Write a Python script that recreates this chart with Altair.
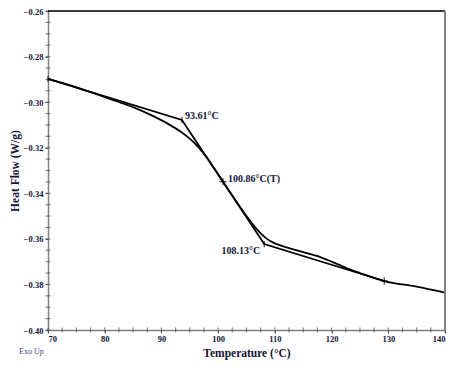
import altair as alt
import pandas as pd

curve_temp = [70, 75, 80, 85, 88, 91, 93.6, 95, 96.5, 98, 99, 100.86, 103, 105, 106.5,
              107.5, 108.6, 110, 111.5, 114.4, 117.4, 120, 123.3, 125, 129.3, 135, 140]
curve_hf = [-0.2898, -0.2935, -0.2978, -0.3022, -0.3055, -0.3093, -0.3133, -0.3160, -0.3197,
            -0.3243, -0.3279, -0.3349, -0.3428, -0.3500, -0.3548, -0.3576, -0.3600, -0.3620,
            -0.3633, -0.3654, -0.3675, -0.3700, -0.3735, -0.3750, -0.3785,
            -0.3810, -0.3836]

tangent_temp = [70, 93.61, 108.13, 129.3]
tangent_hf = [-0.2898, -0.3078, -0.3623, -0.3785]

vtick_temp = [70, 93.61, 108.13]
vtick_hf = [-0.2898, -0.3078, -0.3623]
cross_temp = [100.86, 129.3]
cross_hf = [-0.3349, -0.3785]

label_temp = [93.61, 100.86, 108.13]
label_hf = [-0.3078, -0.3349, -0.3623]
label_text = ["93.61°C", "100.86°C(T)", "108.13°C"]
label_dx = [3, 5, -4]
label_dy = [-4, -3, 7]
label_align = ["left", "left", "right"]

W, H = 397, 319
TXT = "#141438"
FONT = "Liberation Serif"

curve_df = pd.DataFrame({"t": curve_temp, "hf": curve_hf})
tan_df = pd.DataFrame({"t": tangent_temp, "hf": tangent_hf})
vt_df = pd.DataFrame({"t": vtick_temp, "hf": vtick_hf})
cr_df = pd.DataFrame({"t": cross_temp, "hf": cross_hf})

xs = alt.Scale(domain=[70, 140], nice=False, zero=False)
ys = alt.Scale(domain=[-0.40, -0.26], nice=False, zero=False)

xaxis = alt.Axis(values=list(range(70, 141, 10)), title="Temperature (°C)", format="d",
                 grid=False, labelFont=FONT, labelFontWeight="bold", labelFontSize=8.5,
                 labelColor=TXT, titleFont=FONT, titleFontWeight="bold", titleFontSize=11.5,
                 titleColor=TXT, domainColor="#808080", domainWidth=1.5, tickColor="#555555",
                 tickSize=3, labelPadding=1, titlePadding=5)
yaxis = alt.Axis(values=[-0.40, -0.38, -0.36, -0.34, -0.32, -0.30, -0.28, -0.26], format=".2f",
                 title="Heat Flow (W/g)", grid=False, labelFont=FONT, labelFontWeight="bold",
                 labelFontSize=8.5, labelColor=TXT, titleFont=FONT, titleFontWeight="bold",
                 titleFontSize=11.5, titleColor=TXT, domainColor="#808080", domainWidth=1.5,
                 tickColor="#555555", tickSize=3, labelPadding=2, titlePadding=3)

# minor ticks
minor_x = alt.Chart(pd.DataFrame({"t": [70 + 2.5 * i for i in range(29)]})).mark_tick(
    color="#555555", thickness=1.2, size=5, orient="vertical").encode(
    x=alt.X("t:Q", scale=xs), y=alt.value(H))
minor_y = alt.Chart(pd.DataFrame({"hf": [-0.40 + 0.005 * i for i in range(29)]})).mark_tick(
    color="#555555", thickness=1.2, size=5, orient="horizontal").encode(
    y=alt.Y("hf:Q", scale=ys), x=alt.value(0))

curve = alt.Chart(curve_df).mark_line(color="black", strokeWidth=1.8, interpolate="monotone").encode(
    x=alt.X("t:Q", scale=xs, axis=xaxis), y=alt.Y("hf:Q", scale=ys, axis=yaxis))
tangent = alt.Chart(tan_df).mark_line(color="black", strokeWidth=1.8).encode(
    x=alt.X("t:Q", scale=xs), y=alt.Y("hf:Q", scale=ys))
vticks = alt.Chart(vt_df).mark_point(shape="M0,-1L0,1", size=40, color="black", strokeWidth=1.3,
                                    filled=False).encode(
    x=alt.X("t:Q", scale=xs), y=alt.Y("hf:Q", scale=ys))
crosses = alt.Chart(cr_df).mark_point(shape="M-1,0L1,0M0,-1L0,1", size=50, color="black",
                                     strokeWidth=1.3, filled=False).encode(
    x=alt.X("t:Q", scale=xs), y=alt.Y("hf:Q", scale=ys))

labels = []
for t, h, s, dx, dy, al in zip(label_temp, label_hf, label_text, label_dx, label_dy, label_align):
    labels.append(alt.Chart(pd.DataFrame({"t": [t], "hf": [h], "s": [s]})).mark_text(
        font=FONT, fontWeight="bold", fontSize=10, color=TXT, align=al, dx=dx, dy=dy,
        baseline="middle").encode(x=alt.X("t:Q", scale=xs), y=alt.Y("hf:Q", scale=ys), text="s:N"))

top = alt.Chart(pd.DataFrame({"a": [0]})).mark_rule(color="black", strokeWidth=1.5).encode(
    x=alt.value(0), x2=alt.value(W), y=alt.value(0))
right = alt.Chart(pd.DataFrame({"a": [0]})).mark_rule(color="#808080", strokeWidth=2).encode(
    x=alt.value(W), y=alt.value(0), y2=alt.value(H))
exo = alt.Chart(pd.DataFrame({"s": ["Exo Up"]})).mark_text(
    font=FONT, fontSize=8, color="#3a4a8a", align="left", baseline="middle").encode(
    x=alt.value(-29), y=alt.value(H + 22), text="s:N")

chart = alt.layer(minor_x, minor_y, curve, tangent, vticks, crosses, *labels, top, right, exo).properties(
    width=W, height=H, autosize=alt.AutoSizeParams(type="none"),
    padding={"left": 40, "top": 3, "right": 7, "bottom": 30}
).configure_view(stroke=None).configure(background="white")

chart.save("out.html", embed_options={"renderer": "svg", "actions": False})
